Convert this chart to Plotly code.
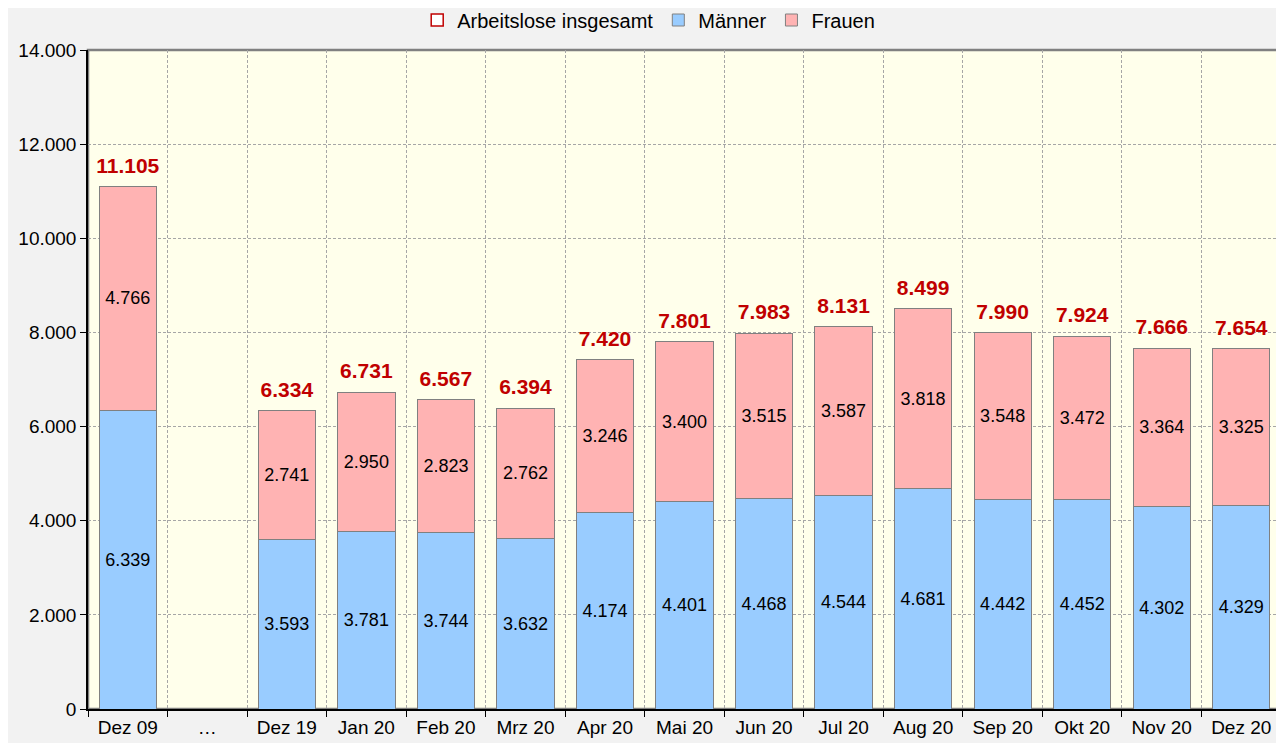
import plotly.graph_objects as go

categories = ["Dez 09", "…", "Dez 19", "Jan 20", "Feb 20", "Mrz 20", "Apr 20", "Mai 20",
              "Jun 20", "Jul 20", "Aug 20", "Sep 20", "Okt 20", "Nov 20", "Dez 20"]
maenner = [6339, None, 3593, 3781, 3744, 3632, 4174, 4401, 4468, 4544, 4681, 4442, 4452, 4302, 4329]
frauen = [4766, None, 2741, 2950, 2823, 2762, 3246, 3400, 3515, 3587, 3818, 3548, 3472, 3364, 3325]
insgesamt = [11105, None, 6334, 6731, 6567, 6394, 7420, 7801, 7983, 8131, 8499, 7990, 7924, 7666, 7654]
y_ticks = [0, 2000, 4000, 6000, 8000, 10000, 12000, 14000]

FONT = "Liberation Sans, Arial, sans-serif"
BAR_LINE = dict(color="#808080", width=1)
GRID = "#A6A6A6"

fig = go.Figure()

# legend-only entry for the total
fig.add_trace(go.Bar(
    x=[categories[0]], y=[None], name="Arbeitslose insgesamt",
    marker=dict(color="white", line=dict(color="#C00000", width=1.5)),
    showlegend=True, hoverinfo="skip",
))
fig.add_trace(go.Bar(
    x=categories, y=maenner, name="Männer",
    marker=dict(color="#99CCFF", line=BAR_LINE),
    texttemplate="%{y:,d}", textposition="inside", insidetextanchor="middle",
    textangle=0, insidetextfont=dict(color="black", size=18, family=FONT),
))
fig.add_trace(go.Bar(
    x=categories, y=frauen, name="Frauen",
    marker=dict(color="#FFB3B3", line=BAR_LINE),
    texttemplate="%{y:,d}", textposition="inside", insidetextanchor="middle",
    textangle=0, insidetextfont=dict(color="black", size=18, family=FONT),
))
fig.add_trace(go.Scatter(
    x=categories, y=insgesamt, mode="markers+text",
    marker=dict(size=12, color="rgba(0,0,0,0)"),
    texttemplate="<b>%{y:,d}</b>", textposition="top center",
    textfont=dict(color="#C00000", size=21, family=FONT),
    showlegend=False, hoverinfo="skip", cliponaxis=False,
))

fig.update_layout(
    barmode="stack",
    bargap=0.28,
    separators=",.",
    width=1276, height=735,
    margin=dict(l=80, r=3, t=42, b=34, autoexpand=False),
    paper_bgcolor="#F2F2F2",
    plot_bgcolor="#FFFFEB",
    font=dict(family=FONT, size=19, color="black"),
    showlegend=True,
    legend=dict(orientation="h", x=0.47, xanchor="center", y=1.0455, yanchor="middle",
                traceorder="normal", font=dict(size=20), bgcolor="rgba(0,0,0,0)",
                itemwidth=30, tracegroupgap=0),
    shapes=[dict(type="rect", xref="paper", yref="paper", x0=0, x1=1, y0=0, y1=1,
                 line=dict(color="#808080", width=2.5), layer="below")],
)
fig.update_xaxes(
    type="category", categoryorder="array", categoryarray=categories,
    range=[-0.5, len(categories) - 0.5], autorange=False,
    tickson="boundaries", ticks="outside", ticklen=6, tickcolor="black",
    showgrid=True, gridcolor=GRID, griddash="3px,2px", gridwidth=1,
    showline=True, linecolor="black", linewidth=1.5,
    tickfont=dict(size=19), zeroline=False,
)
fig.update_yaxes(
    range=[0, 14000], tickvals=y_ticks, tickformat=",d",
    ticks="outside", ticklen=6, tickcolor="black",
    showgrid=True, gridcolor=GRID, griddash="3px,2px", gridwidth=1,
    showline=True, linecolor="black", linewidth=1.5,
    tickfont=dict(size=19), zeroline=False,
)

fig.write_html("out.html")
